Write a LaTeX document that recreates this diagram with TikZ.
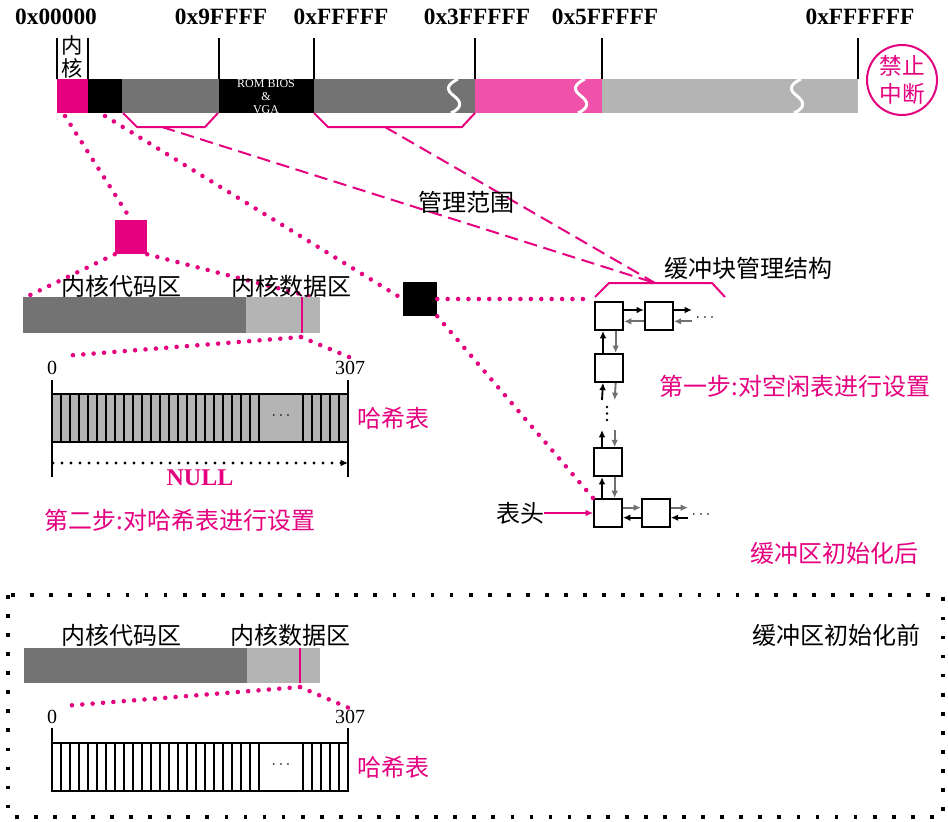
\documentclass[tikz,border=0pt]{standalone}
\usepackage{fontspec}
\setmainfont{Liberation Serif}
\newfontfamily\cjk{Noto Sans CJK SC}
\usetikzlibrary{positioning,arrows.meta,calc}
\tikzset{>={Latex[length=5.5pt,width=5pt]}}
\definecolor{kpink}{HTML}{E4007F}
\definecolor{lpink}{HTML}{F052A9}
\definecolor{dgray}{HTML}{737373}
\definecolor{lgray}{HTML}{B4B4B4}
\definecolor{agray}{HTML}{707070}
\tikzset{
  zh/.style={font=\cjk\fontsize{18}{22}\selectfont, inner sep=0pt},
  zhpink/.style={zh, text=kpink},
  addr/.style={font=\fontsize{17.5}{20}\selectfont\bfseries, inner sep=0pt},
  num/.style={font=\fontsize{15}{18}\selectfont, inner sep=0pt},
  magline/.style={kpink, line width=3.4pt, line cap=round, dash pattern=on 0pt off 7.8pt},
  rangeline/.style={kpink, line width=1.5pt, dash pattern=on 10pt off 5pt},
  brk/.style={kpink, line width=1.5pt},
  bufblk/.style={draw, line width=1.4pt, fill=white, minimum size=21pt, inner sep=0pt},
  nxt/.style={->, line width=1.4pt},
  prv/.style={->, line width=1.4pt, agray},
  romtxt/.style={text=white, inner sep=0pt, align=center, font=\fontsize{9}{9.6}\selectfont},
}

\begin{document}
\begin{tikzpicture}[x=0.75pt, y=-0.75pt]
    \useasboundingbox (0,0) rectangle (948,821);
    % memory map
    \fill[kpink] (57,79) rectangle (88,113);
    \fill[black] (88,79) rectangle (122,113);
    \fill[dgray] (122,79) rectangle (219,113);
    \fill[black] (219,79) rectangle (314,113);
    \fill[dgray] (314,79) rectangle (475,113);
    \fill[lpink] (475,79) rectangle (602,113);
    \fill[lgray] (602,79) rectangle (858,113);
    \foreach \wx in {454,581,797}
        \draw[white, line width=2.2pt] (\wx+4,79) .. controls (\wx-8,85) and (\wx-8,90) .. (\wx,96)
            .. controls (\wx+8,102) and (\wx+8,108) .. (\wx-3,113);
    \foreach \tx in {57,88,219,314,475,602,858}
        \draw[line width=0.8pt] (\tx,38) -- (\tx,79);
    \node[addr] (a0) at (56,17) {0x00000};
    \node[addr] (a1) at (221,17) {0x9FFFF};
    \node[addr] (a2) at (341,17) {0xFFFFF};
    \node[addr] (a3) at (477,17) {0x3FFFFF};
    \node[addr] (a4) at (605,17) {0x5FFFFF};
    \node[addr] (a5) at (860,17) {0xFFFFFF};
    \node[zh, align=center, font=\cjk\fontsize{16}{17}\selectfont] (kname) at (72,57) {内\\核};
    \node[romtxt] (rom) at (266,96.5) {ROM BIOS\\\&\\VGA};
    \node[draw=kpink, line width=1.5pt, circle, minimum size=52.5pt, inner sep=0pt, text=kpink,
          align=center, font=\cjk\fontsize{17}{21}\selectfont] (nointr) at (902,80) {禁止\\中断};

    % management range
    \draw[brk] (123,113) -- (137,127) -- (205,127) -- (218,113);
    \draw[brk] (314,113) -- (328,127) -- (462,127) -- (475,113);
    \draw[brk] (595,297) -- (609,283) -- (712,283) -- (725,297);
    \coordinate (rg1) at (162,127);
    \coordinate (rg2) at (385,127);
    \coordinate (st) at (655,283);
    \draw[rangeline] (rg1) -- (st);
    \draw[rangeline] (rg2) -- (st);
    \node[zh] (range) at (466,202) {管理范围};
    \node[zh] (mgr) at (748,268) {缓冲块管理结构};

    % zoomed blocks
    \node[fill=kpink, minimum width=24pt, minimum height=25.5pt, inner sep=0pt] (ksq) at (131,237) {};
    \node[fill=black, minimum size=25.5pt, inner sep=0pt] (bsq) at (420,299) {};
    \coordinate (kb) at (65,116);
    \coordinate (bb) at (105,116);
    \coordinate (kc1) at (26,297);
    \coordinate (kc2) at (312,297);
    \coordinate (fl) at (585,299);
    \draw[magline] (kb) -- (ksq.north);
    \draw[magline] (bb) -- (bsq.west);
    \draw[magline] (ksq.south west) -- (kc1);
    \draw[magline] (ksq.south east) -- (kc2);
    \draw[magline] (bsq.east) -- (fl);

    % kernel after init
    \fill[dgray] (23,297) rectangle (246,333);
    \fill[lgray] (246,297) rectangle (320,333);
    \draw[kpink, line width=1.5pt] (302,297) -- (302,333);
    \node[zh] (kcode) at (121,286) {内核代码区};
    \node[zh] (kdata) at (291,286) {内核数据区};
    \coordinate (hp) at (301,337);
    \coordinate (hl) at (63,356);
    \coordinate (hr) at (349,357);
    \draw[magline] (hp) -- (hl);
    \draw[magline] (hp) -- (hr);
    \node[num] (h0) at (52,368) {0};
    \node[num] (h307) at (350,368) {307};
    \draw[line width=1.5pt] (52,380) -- (52,477);
    \draw[line width=1.5pt] (348,380) -- (348,477);

    % hash tables
    \foreach \ty/\tf in {394/lgray,743/white}{
        \draw[line width=1.5pt, fill=\tf] (52,\ty) rectangle (348,\ty+48);
        \foreach \i in {1,...,23}
            \draw[line width=1pt] (52+\i*9,\ty) -- (52+\i*9,\ty+48);
        \foreach \i in {0,...,4}
            \draw[line width=1pt] (303+\i*9,\ty) -- (303+\i*9,\ty+48);
    }
    \node[font=\large] (hd1) at (281,416) {$\cdots$};
    \node[zhpink] (ht1) at (393,418) {哈希表};
    \coordinate (n0) at (53,463);
    \coordinate (n1) at (348,463);
    \draw[->, line width=2.4pt, line cap=round, dash pattern=on 0pt off 6.75pt] (n0) -- (n1);
    \node[text=kpink, inner sep=0pt, font=\fontsize{18}{20}\selectfont\bfseries] (null) at (200,478) {NULL};
    \node[zhpink] (step2) at (180,520) {第二步:对哈希表进行设置};

    % free list
    \node[bufblk] (b1) at (609,316) {};
    \node[bufblk] (b2) [right=15pt of b1] {};
    \node[bufblk] (b3) [below=16.5pt of b1] {};
    \node[bufblk] (b5) at (608,513) {};
    \node[bufblk] (b4) [above=15.75pt of b5] {};
    \node[bufblk] (b6) [right=13.5pt of b5] {};
    \coordinate (t1) at (692,316);
    \coordinate (t2) at (688,513);
    \coordinate (u1) at (608,400);
    \coordinate (u2) at (608,430);
    \draw[nxt] ([yshift=4.5pt]b1.east) -- ([yshift=4.5pt]b2.west);
    \draw[prv] ([yshift=-4pt]b2.west) -- ([yshift=-4pt]b1.east);
    \draw[nxt] ([yshift=4.5pt]b2.east) -- ([yshift=4.5pt]t1);
    \draw[prv] ([yshift=-4pt]t1) -- ([yshift=-4pt]b2.east);
    \node[font=\large] (dt1) at (705,318) {$\cdots$};
    \draw[nxt] ([xshift=-4.5pt]b3.north) -- ([xshift=-4.5pt]b1.south);
    \draw[prv] ([xshift=5pt]b1.south) -- ([xshift=5pt]b3.north);
    \draw[nxt] ([xshift=-4.5pt]u1) -- ([xshift=-4.5pt]b3.south);
    \draw[prv] ([xshift=5pt]b3.south) -- ([xshift=5pt]u1);
    \foreach \dy in {407,413.5,420}
        \fill (607,\dy) circle (1pt);
    \draw[nxt] ([xshift=-4.5pt]b4.north) -- ([xshift=-4.5pt]u2);
    \draw[prv] ([xshift=5pt]u2) -- ([xshift=5pt]b4.north);
    \draw[nxt] ([xshift=-4.5pt]b5.north) -- ([xshift=-4.5pt]b4.south);
    \draw[prv] ([xshift=5pt]b4.south) -- ([xshift=5pt]b5.north);
    \draw[prv] ([yshift=4pt]b5.east) -- ([yshift=4pt]b6.west);
    \draw[nxt] ([yshift=-3.5pt]b6.west) -- ([yshift=-3.5pt]b5.east);
    \draw[prv] ([yshift=4pt]b6.east) -- ([yshift=4pt]t2);
    \draw[nxt] ([yshift=-3.5pt]t2) -- ([yshift=-3.5pt]b6.east);
    \node[font=\large] (dt2) at (701,515) {$\cdots$};
    \node[zh] (head) at (520,513) {表头};
    \draw[->, kpink, line width=1.4pt] (head) -- (b5);
    \draw[magline] (bsq.south east) -- (b5.north west);
    \node[zhpink] (step1) at (795,386) {第一步:对空闲表进行设置};
    \node[zhpink] (after) at (834,553) {缓冲区初始化后};

    % before init
    \draw[line width=2.4pt, dash pattern=on 2.8pt off 11.5pt] (8,595) rectangle (943,817);
    \node[zh] (before) at (836,635) {缓冲区初始化前};
    \fill[dgray] (24,648) rectangle (247,683);
    \fill[lgray] (247,648) rectangle (320,683);
    \draw[kpink, line width=1.5pt] (300,648) -- (300,683);
    \node[zh] (kcode2) at (121,635) {内核代码区};
    \node[zh] (kdata2) at (290,635) {内核数据区};
    \coordinate (hp2) at (300,687);
    \coordinate (hl2) at (63,706);
    \coordinate (hr2) at (349,708);
    \draw[magline] (hp2) -- (hl2);
    \draw[magline] (hp2) -- (hr2);
    \node[num] (g0) at (52,717) {0};
    \node[num] (g307) at (350,717) {307};
    \draw[line width=1.5pt] (52,728) -- (52,743);
    \draw[line width=1.5pt] (348,728) -- (348,743);
    \node[font=\large] (hd2) at (281,765) {$\cdots$};
    \node[zhpink] (ht2) at (393,767) {哈希表};
\end{tikzpicture}
\end{document}
